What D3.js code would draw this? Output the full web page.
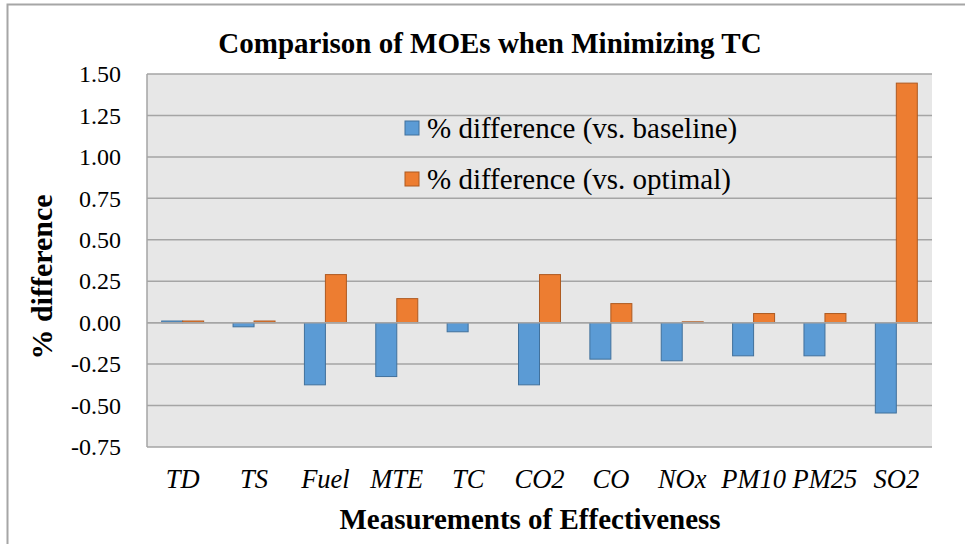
<!DOCTYPE html>
<html>
<head>
<meta charset="utf-8">
<script src="https://cdn.jsdelivr.net/npm/d3@7"></script>
<style>
  body { margin: 0; background: #fff; }
  svg { display: block; font-family: "Liberation Serif", "Times New Roman", serif; }
</style>
</head>
<body>
<svg id="chart" width="965" height="544"></svg>
<script>
// ---- dados
const categories = ['TD', 'TS', 'Fuel', 'MTE', 'TC', 'CO2', 'CO', 'NOx', 'PM10', 'PM25', 'SO2'];
const seriesNames = ['% difference (vs. baseline)', '% difference (vs. optimal)'];
const vsBaseline = [0.01, -0.025, -0.375, -0.325, -0.055, -0.375, -0.22, -0.23, -0.2, -0.2, -0.545];
const vsOptimal  = [0.01, 0.01, 0.29, 0.145, 0, 0.29, 0.115, 0.005, 0.055, 0.055, 1.445];
const yTicks = [-0.75, -0.5, -0.25, 0, 0.25, 0.5, 0.75, 1.0, 1.25, 1.5];
const colors = ['#5b9bd5', '#ed7d31'];
const strokes = ['#41719c', '#ae5a21'];

const svg = d3.select('#chart');
const margens = { left: 147, right: 33, top: 74, bottom: 97 };
const innerWidth = 965 - margens.left - margens.right;
const innerHeight = 544 - margens.top - margens.bottom;

// moldura externa
svg.append('path')
    .attr('d', 'M7.5,544 V4.5 H965')
    .style('fill', 'none')
    .style('stroke', '#a6a6a6')
    .style('stroke-width', 2);

const g = svg.append('g')
    .attr('transform', `translate(${margens.left}, ${margens.top})`);

// ---- escalas
const mapX = d3.scaleBand().domain(categories).range([0, innerWidth]);
const mapSeries = d3.scaleBand().domain([0, 1]).range([0, mapX.bandwidth()]).paddingOuter(0.7);
const mapY = d3.scaleLinear().domain([-0.75, 1.5]).range([innerHeight, 0]);

// fundo da área de plotagem
g.append('rect')
    .attr('width', innerWidth)
    .attr('height', innerHeight)
    .style('fill', '#e7e7e7');

// ---- grade
g.selectAll('line.grid')
    .data(yTicks)
    .join('line')
    .attr('class', 'grid')
    .attr('x1', 0).attr('x2', innerWidth)
    .attr('y1', d => mapY(d)).attr('y2', d => mapY(d))
    .style('stroke', '#a5a5a5')
    .style('stroke-width', 1.5);

// eixo Y
const yAxis = d3.axisLeft(mapY)
    .tickValues(yTicks)
    .tickFormat(d => d.toFixed(2))
    .tickSize(0)
    .tickPadding(26);
const groupY = g.append('g').call(yAxis);
groupY.select('.domain').remove();
groupY.selectAll('text')
    .style('font-family', '"Liberation Serif", serif')
    .style('font-size', '24px')
    .style('fill', '#000');

g.append('line')
    .attr('x1', 0).attr('x2', 0)
    .attr('y1', 0).attr('y2', innerHeight)
    .style('stroke', '#a5a5a5')
    .style('stroke-width', 1.5);

// ---- barras
const data = categories.map((c, i) => ({ cat: c, values: [vsBaseline[i], vsOptimal[i]] }));

const groups = g.selectAll('g.cat')
    .data(data)
    .join('g')
    .attr('class', 'cat')
    .attr('transform', d => `translate(${mapX(d.cat)}, 0)`);

groups.selectAll('rect')
    .data(d => d.values.map((v, s) => ({ v, s })))
    .join('rect')
    .attr('x', d => mapSeries(d.s))
    .attr('width', mapSeries.bandwidth())
    .attr('y', d => mapY(Math.max(0, d.v)))
    .attr('height', d => Math.abs(mapY(d.v) - mapY(0)))
    .style('fill', d => colors[d.s])
    .style('stroke', d => strokes[d.s])
    .style('stroke-width', 1);

// linha do zero por cima
g.append('line')
    .attr('x1', 0).attr('x2', innerWidth)
    .attr('y1', mapY(0)).attr('y2', mapY(0))
    .style('stroke', '#a5a5a5')
    .style('stroke-width', 1.5);

// ---- eixo X (rótulos)
const xAxis = d3.axisBottom(mapX).tickSize(0).tickPadding(22);
const groupX = g.append('g')
    .attr('transform', `translate(0, ${innerHeight})`)
    .call(xAxis);
groupX.select('.domain').remove();
groupX.selectAll('text')
    .style('font-family', '"Liberation Serif", serif')
    .style('font-size', '26.5px')
    .style('font-style', 'italic')
    .style('fill', '#000');

// ---- legenda
const legend = g.append('g').attr('transform', 'translate(258, 47)');
const items = legend.selectAll('g')
    .data(seriesNames)
    .join('g')
    .attr('transform', (d, i) => `translate(0, ${i * 51})`);
items.append('rect')
    .attr('width', 14).attr('height', 14)
    .style('fill', (d, i) => colors[i])
    .style('stroke', (d, i) => strokes[i]);
items.append('text')
    .attr('x', 22).attr('y', 17)
    .style('font-size', '29px')
    .text(d => d);

// ---- títulos
svg.append('text')
    .attr('x', 490).attr('y', 53)
    .attr('text-anchor', 'middle')
    .style('font-size', '29px')
    .style('font-weight', 'bold')
    .text('Comparison of MOEs when Minimizing TC');

svg.append('text')
    .attr('x', 530).attr('y', 529)
    .attr('text-anchor', 'middle')
    .style('font-size', '29px')
    .style('font-weight', 'bold')
    .text('Measurements of Effectiveness');

svg.append('text')
    .attr('transform', 'translate(52, 277) rotate(-90)')
    .attr('text-anchor', 'middle')
    .style('font-size', '30px')
    .style('font-weight', 'bold')
    .text('% difference');
</script>
</body>
</html>
